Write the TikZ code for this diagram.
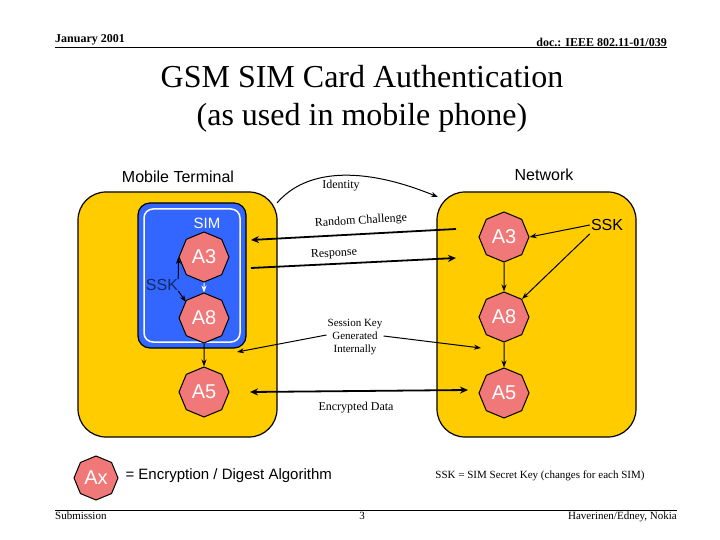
\documentclass[tikz,border=0pt]{standalone}
\usepackage{fontspec}
\setmainfont{Liberation Serif}
\newfontfamily\arial{Liberation Sans}
\usetikzlibrary{shapes.geometric,arrows.meta}
\definecolor{orng}{HTML}{FFCC00}
\definecolor{simblue}{HTML}{3366FF}
\definecolor{octo}{HTML}{F07878}
\tikzset{
 x=1pt,y=-1pt,
 box/.style={draw=black,line width=1.2pt,fill=orng,rounded corners=28},
 alg/.style={regular polygon,regular polygon sides=8,draw=black,line width=1pt,fill=octo,minimum size=52,inner sep=0,text=white,font=\arial\fontsize{20}{22}\selectfont,shape border rotate=22.5},
 arr/.style={-{Stealth[length=8pt,width=7pt]},line width=1.8pt},
 thin/.style={-{Stealth[length=7pt,width=5pt]},line width=1pt},
 lbl/.style={font=\fontsize{12}{13}\selectfont,inner sep=1pt},
}
\begin{document}
\begin{tikzpicture}
\useasboundingbox[fill=white] (0,0) rectangle (720,540);
% header/footer
\node[anchor=south west,font=\bfseries\fontsize{12}{13}\selectfont,inner sep=0] (date) at (55,45) {January 2001};
\node[anchor=south east,font=\bfseries\fontsize{12}{13}\selectfont,inner sep=0] (doc) at (667,47) {doc.: IEEE 802.11-01/039};
\draw[line width=1pt] (55,48) -- (667,48);
\node[font=\fontsize{32}{38}\selectfont,align=center] (title) at (362,99) {GSM SIM Card Authentication\\(as used in mobile phone)};
\draw[line width=1pt] (55,510) -- (677,510);
\node[anchor=north west,font=\fontsize{11}{12}\selectfont,inner sep=0] (sub) at (55,512) {Submission};
\node[anchor=north,font=\fontsize{11}{12}\selectfont,inner sep=0] (pg) at (362,512) {3};
\node[anchor=north east,font=\fontsize{11}{12}\selectfont,inner sep=0] (auth) at (677,512) {Haverinen/Edney, Nokia};
% boxes
\draw[box] (78,192) rectangle (277,437);
\draw[box] (437,192) rectangle (636,437);
\draw[fill=simblue,draw=black,line width=1.2pt,rounded corners=12] (138,203) rectangle (246,348);
\draw[white,line width=1.5pt,rounded corners=9] (144,209) rectangle (240,342);
\node[font=\arial\fontsize{16}{18}\selectfont] (mt) at (178,177) {Mobile Terminal};
\node[font=\arial\fontsize{16}{18}\selectfont] (net) at (544,175) {Network};
\node[font=\arial\fontsize{15}{17}\selectfont,text=white] (sim) at (207,223) {SIM};
% algorithms
\node[alg,minimum size=50] (la3) at (204,257) {A3};
\node[alg,minimum size=50] (la8) at (204,318) {A8};
\node[alg,minimum size=50] (la5) at (204,392) {A5};
\node[alg,minimum size=50] (ra3) at (504,237) {A3};
\node[alg,minimum size=50] (ra8) at (504,317) {A8};
\node[alg,minimum size=50] (ra5) at (504,393) {A5};
\draw[thin,white] (la3) -- (la8);
\draw[thin] (la8) -- (la5);
\draw[thin] (ra3) -- (ra8);
\draw[thin] (ra8) -- (ra5);
\node[font=\arial\fontsize{16}{18}\selectfont,text=simblue!40!black,inner sep=0] (lssk) at (162,285) {SSK};
\draw[thin] (lssk.north east) -- (la3.west);
\draw[thin] (lssk.south east) -- ([yshift=-2]la8.north west);
\node[font=\arial\fontsize{16}{18}\selectfont,inner sep=1] (rssk) at (607,225) {SSK};
\draw[thin] (rssk.west) -- (ra3.east);
\draw[thin] ([yshift=-2]rssk.south west) -- (ra8.north east);
% messages
\coordinate (idA) at (277,203);
\coordinate (idB) at (438,197);
\draw[thin] (idA) .. controls (305,170) and (360,165) .. (idB);
\node[lbl] (idl) at (341,186) {Identity};
\coordinate (rcA) at (456,229);
\coordinate (rcB) at (251,240);
\draw[arr] (rcA) -- (rcB);
\node[lbl,rotate=3.5] (rcl) at (361,221) {Random Challenge};
\coordinate (rsA) at (251,268);
\coordinate (rsB) at (456,258);
\draw[arr] (rsA) -- (rsB);
\node[lbl,rotate=3] (rsl) at (334,254) {Response};
\node[lbl,align=center,font=\fontsize{11}{13}\selectfont] (sk) at (355,337) {Session Key\\Generated\\Internally};
\coordinate (skL) at (237,352);
\coordinate (skR) at (481,348);
\draw[thin] (sk.west |- 0,335) -- (skL);
\draw[thin] (sk.east |- 0,336) -- (skR);
\coordinate (edA) at (250,392);
\coordinate (edB) at (468,390);
\draw[arr,{Stealth[length=8pt,width=7pt]}-{Stealth[length=8pt,width=7pt]}] (edA) -- (edB);
\node[lbl] (edl) at (356,408) {Encrypted Data};
% legend
\node[alg,minimum size=44,font=\arial\fontsize{20}{22}\selectfont] (ax) at (96,478) {Ax};
\node[anchor=west,font=\arial\fontsize{15}{17}\selectfont] (axl) at (122,476) {= Encryption / Digest Algorithm};
\node[font=\fontsize{11}{12}\selectfont] (sskl) at (540,476) {SSK = SIM Secret Key (changes for each SIM)};
\end{tikzpicture}
\end{document}
